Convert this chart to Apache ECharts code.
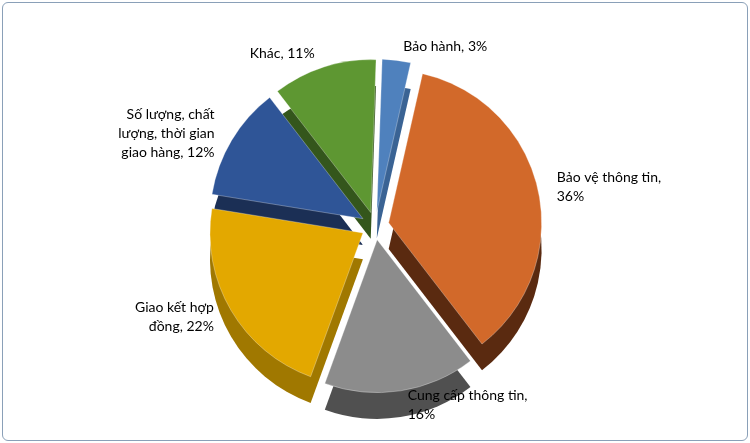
<!DOCTYPE html>
<html>
<head>
<meta charset="utf-8">
<script src="https://cdn.jsdelivr.net/npm/echarts@6/dist/echarts.min.js"></script>
<style>
  body { margin: 0; background: #fff; }
  #chart { width: 744px; height: 437px; border: 1px solid #8aa0b8; border-radius: 6px; margin: 2px; }
</style>
</head>
<body>
<div id="chart"></div>
<script>
var names = ['Bảo hành', 'Bảo vệ thông tin', 'Cung cấp thông tin', 'Giao kết hợp\nđồng', 'Số lượng, chất\nlượng, thời gian\ngiao hàng', 'Khác'];
var values = [3, 36, 16, 22, 12, 11];
var breakBeforePct = [false, true, true, false, false, false];
var topColors = ['#4F81BD', '#D2692A', '#8C8C8C', '#E3A800', '#2F5597', '#5E9732'];
var sideColors = ['#3A6394', '#5A2A10', '#505050', '#A07800', '#1B2F55', '#34561C'];

var chartDom = document.getElementById('chart');
var myChart = echarts.init(chartDom);

function makeData(colors) {
  return names.map(function (n, i) {
    return { name: n, value: values[i], selected: true, itemStyle: { color: colors[i] } };
  });
}

var option = {
  animation: false,
  series: [
    {
      type: 'pie',
      silent: true,
      center: ['50%', '57%'],
      radius: '70%',
      startAngle: 88,
      clockwise: true,
      selectedMode: 'multiple',
      selectedOffset: 14,
      label: { show: false },
      labelLine: { show: false },
      data: makeData(sideColors)
    },
    {
      type: 'pie',
      center: ['50%', '51%'],
      radius: '70%',
      startAngle: 88,
      clockwise: true,
      selectedMode: 'multiple',
      selectedOffset: 14,
      itemStyle: { borderColor: 'rgba(255,255,255,0.3)', borderWidth: 1 },
      label: {
        show: true,
        position: 'outside',
        formatter: function (p) {
          return p.name + ',' + (breakBeforePct[p.dataIndex] ? '\n' : ' ') + Math.round(p.percent) + '%';
        },
        fontFamily: 'Lato',
        fontSize: 14,
        color: '#000',
        lineHeight: 19,
        align: 'center'
      },
      labelLine: { show: false, length: 14, length2: 0 },
      data: makeData(topColors)
    }
  ]
};

option && myChart.setOption(option);
</script>
</body>
</html>
